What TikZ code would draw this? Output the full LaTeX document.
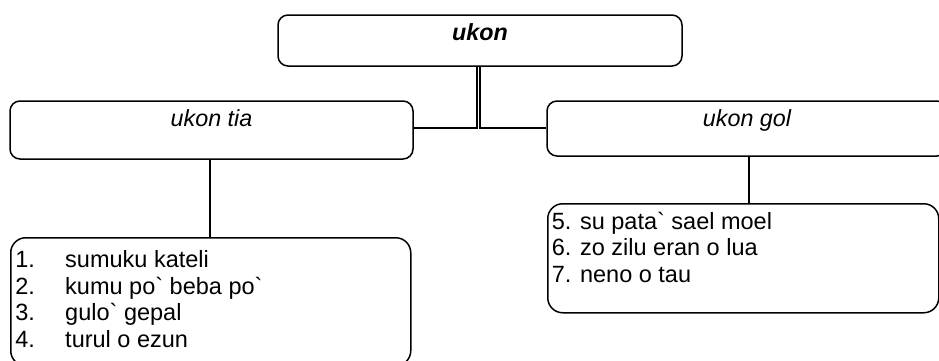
\documentclass[tikz,border=0pt]{standalone}
\usepackage{fontspec}
\newfontfamily\arialfont{Liberation Sans}
\newcommand\itemfont{\arialfont\fontsize{23.5}{26.7}\selectfont}
\begin{document}
\begin{tikzpicture}[x=1pt,y=-1pt,
  every node/.style={font=\arialfont\fontsize{23.3}{26.7}\selectfont},
  headbox/.style={draw, line width=1.5pt, rounded corners=10pt, inner sep=0pt,
    anchor=base, text height=25pt, align=center},
  listbox/.style={draw, line width=1.5pt, rounded corners=15pt, inner sep=0pt,
    anchor=north west},
  link/.style={line width=1.6pt}]
\path[use as bounding box] (0,0) rectangle (939,360);
\clip (0,0) rectangle (939,360);

% headings
\node[headbox, text depth=26pt, minimum width=404pt] (top) at (480,40) {\bfseries\itshape ukon};
\node[headbox, text depth=33pt, minimum width=403pt] (tia) at (211.5,126) {\itshape ukon tia};
\node[headbox, text depth=30pt, minimum width=400pt] (gol) at (747,126) {\itshape ukon gol};

% item lists
\node[listbox] (listA) at (10,237) {\parbox[c][128pt][t]{400pt}{\itemfont
  \vspace*{11.7pt}%
  \hspace*{4.5pt}\rule{0pt}{18pt}\makebox[50pt][l]{1.}sumuku kateli\\
  \hspace*{4.5pt}\rule{0pt}{18pt}\makebox[50pt][l]{2.}kumu po` beba po`\\
  \hspace*{4.5pt}\rule{0pt}{18pt}\makebox[50pt][l]{3.}gulo` gepal\\
  \hspace*{4.5pt}\rule{0pt}{18pt}\makebox[50pt][l]{4.}turul o ezun}};
\node[listbox] (listB) at (547,203) {\parbox[c][109pt][t]{391pt}{\itemfont
  \vspace*{7.3pt}%
  \hspace*{4pt}\rule{0pt}{18pt}5. su pata` sael moel\\
  \hspace*{4pt}\rule{0pt}{18pt}6. zo zilu eran o lua\\
  \hspace*{4pt}\rule{0pt}{18pt}7. neno o tau}};

% double connector from the top heading
\coordinate (jl) at (477,127.7);
\coordinate (jr) at (480.2,127.7);
\draw[link] (jl |- top.south) -- (jl) -- (jl -| tia.east);
\draw[link] (jr |- top.south) -- (jr) -- (jr -| gol.west);

% headings to their lists
\draw[link] ([xshift=-1.5pt]tia.south) -- ([xshift=-1.5pt]tia.south |- listA.north);
\draw[link] ([xshift=2pt]gol.south) -- ([xshift=2pt]gol.south |- listB.north);
\end{tikzpicture}
\end{document}
